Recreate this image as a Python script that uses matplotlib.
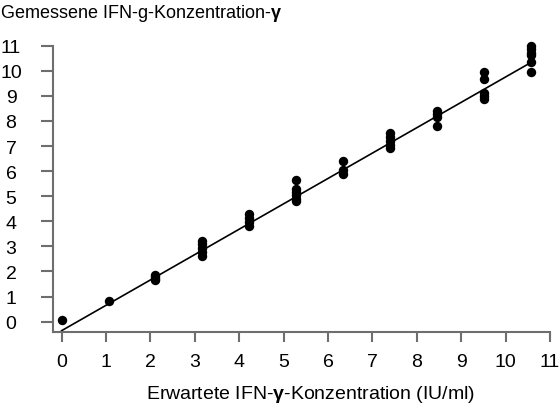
import matplotlib
matplotlib.use("Agg")
import matplotlib.pyplot as plt
import numpy as np

# expected concentrations (IU/ml)
expected = [0.0, 1.057, 2.114, 3.171, 4.228, 5.285, 6.342, 7.399, 8.456, 9.513, 10.57]
# measured replicates per expected level
measured = [
    [0.05],
    [0.82],
    [1.85, 1.78, 1.70, 1.65],
    [3.22, 3.08, 2.92, 2.76, 2.62],
    [4.28, 4.12, 3.96, 3.80],
    [5.64, 5.30, 5.18, 5.03, 4.90, 4.80],
    [6.40, 6.05, 5.90],
    [7.52, 7.36, 7.20, 7.05, 6.92],
    [8.40, 8.26, 8.14, 7.78],
    [9.95, 9.68, 9.12, 9.00, 8.88],
    [11.0, 10.86, 10.72, 10.62, 10.36, 9.97],
]
# regression line
fit_x = [0.0, 10.57]
fit_y = [-0.36, 10.33]

x_ticks = list(range(0, 12))
y_ticks = list(range(0, 12))

xs = [x for x, grp in zip(expected, measured) for _ in grp]
ys = [y for grp in measured for y in grp]

plt.rcParams['font.family'] = ['Liberation Sans', 'DejaVu Sans']
plt.rcParams['mathtext.fontset'] = 'custom'
plt.rcParams['mathtext.rm'] = 'Liberation Sans'
plt.rcParams['mathtext.bf'] = 'Liberation Sans:bold'
plt.rcParams['mathtext.it'] = 'Liberation Sans:italic'

fig = plt.figure(figsize=(5.6, 4.1), dpi=100)
ax = fig.add_axes([52.7/560, 1-332.7/410, (550-52.7)/560, (332.7-46.7)/410])

ax.plot(fit_x, fit_y, color='black', lw=1.2, zorder=2)
ax.scatter(xs, ys, s=46, color='black', zorder=3, linewidths=0, clip_on=False)

ax.set_xlim(-0.2, 11)
ax.set_ylim(-0.4, 11)
ax.set_xticks(x_ticks)
ax.set_yticks(y_ticks)
ax.set_xticklabels([str(t) for t in x_ticks])
ax.set_yticklabels([str(t) for t in y_ticks])

spine_col = '#6e6e6e'
for s in ['top', 'right']:
    ax.spines[s].set_visible(False)
for s in ['left', 'bottom']:
    ax.spines[s].set_color(spine_col)
    ax.spines[s].set_linewidth(1.5)

ax.tick_params(axis='x', direction='out', length=7, width=1.5, color=spine_col,
               labelsize=14, pad=8)
ax.tick_params(axis='y', direction='out', length=9, width=1.5, color=spine_col,
               labelsize=14, pad=21)
for lab in ax.get_yticklabels():
    lab.set_horizontalalignment('center')

fig.text(311/560, 1-395/410, r'Erwartete IFN-$\mathbf{\gamma}$-Konzentration (IU/ml)',
         ha='center', va='center', fontsize=14)
fig.text(0.0, 1-13/410, r'Gemessene IFN-g-Konzentration-$\mathbf{\gamma}$',
         ha='left', va='center', fontsize=13)

fig.savefig('out.png', dpi=100)
